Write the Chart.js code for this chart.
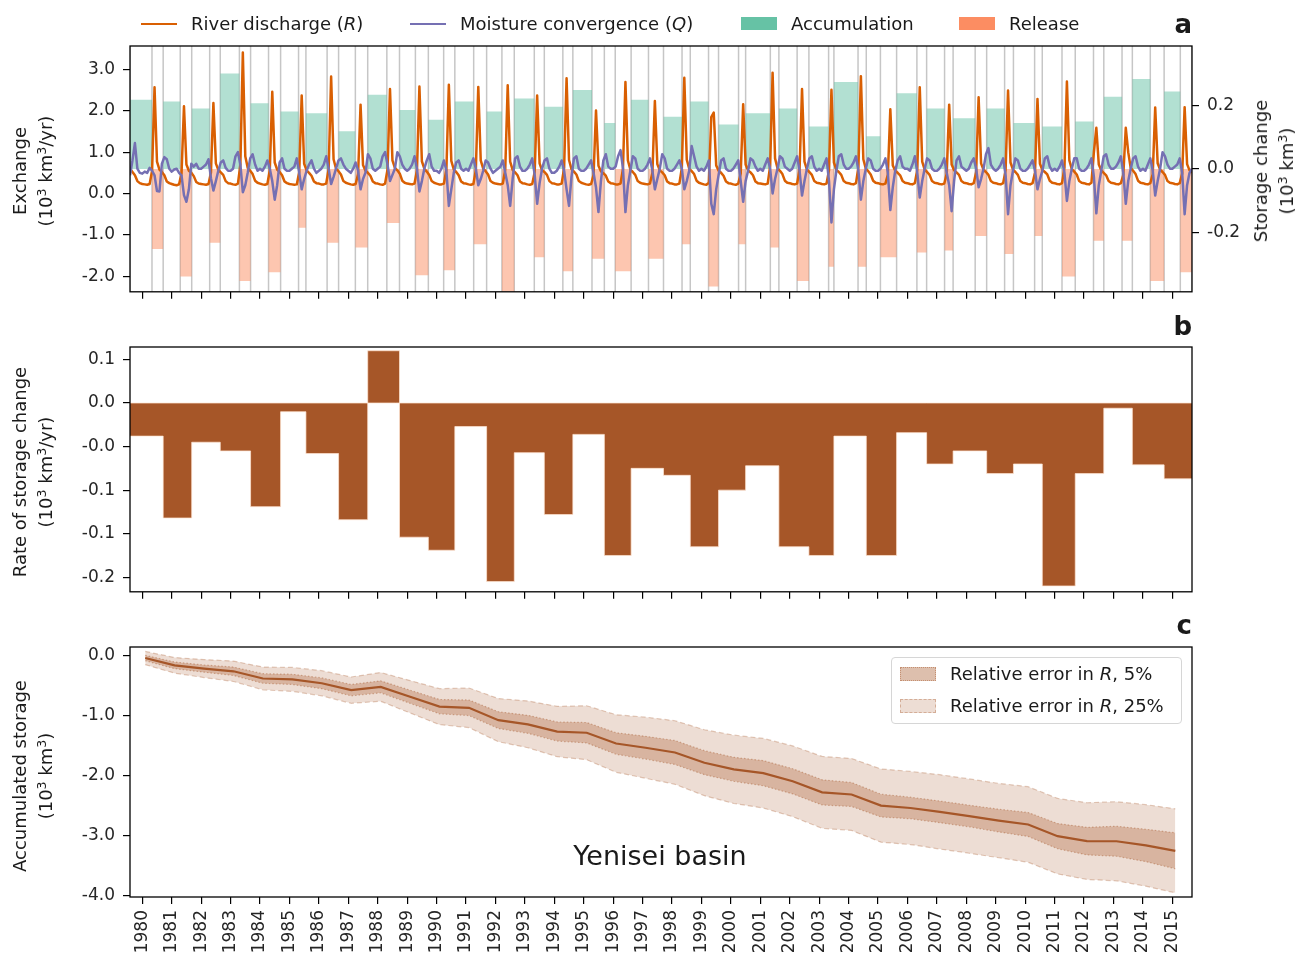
<!DOCTYPE html>
<html>
<head>
<meta charset="utf-8">
<title>Yenisei basin water storage</title>
<script src="https://cdn.jsdelivr.net/npm/chart.js@4.4.1/dist/chart.umd.min.js"></script>
<style>
  html, body { margin: 0; padding: 0; background: #fff; }
  body { position: relative; width: 1298px; height: 964px; overflow: hidden;
         font-family: "DejaVu Sans", sans-serif; color: #1a1a1a; }
  canvas { position: absolute; left: 0; }
  .txt { position: absolute; white-space: nowrap; font-size: 18px; line-height: 18px; }
  .ytitle { position: absolute; transform: translate(-50%, -50%) rotate(-90deg);
            text-align: center; white-space: nowrap; font-size: 18px; line-height: 26px; }
  sup { font-size: 0.7em; line-height: 0; vertical-align: 0.5em; }
  .panel { position: absolute; font-weight: bold; font-size: 26px; line-height: 26px; }
  .swatch { position: absolute; box-sizing: border-box; }
  .legend-c { position: absolute; left: 891px; top: 657px; width: 291px; height: 67px;
              border: 1px solid #d6d6d6; border-radius: 4px; background: rgba(255,255,255,0.8);
              box-sizing: border-box; }
</style>
</head>
<body>
<canvas id="panelA" width="1298" height="310" style="top:0"></canvas>
<canvas id="panelB" width="1298" height="300" style="top:310px"></canvas>
<canvas id="panelC" width="1298" height="364" style="top:600px"></canvas>

<!-- legend of panel a -->
<div class="swatch" style="left:141px;top:22.5px;width:36px;height:2.5px;background:#d95f02"></div>
<div class="txt" style="left:191px;top:15px">River discharge (<i>R</i>)</div>
<div class="swatch" style="left:410px;top:22.5px;width:36px;height:2.5px;background:#7570b3"></div>
<div class="txt" style="left:460px;top:15px">Moisture convergence (<i>Q</i>)</div>
<div class="swatch" style="left:741px;top:17px;width:36px;height:13px;background:#66c2a5"></div>
<div class="txt" style="left:791px;top:15px">Accumulation</div>
<div class="swatch" style="left:959px;top:17px;width:36px;height:13px;background:#fc8d62"></div>
<div class="txt" style="left:1009px;top:15px">Release</div>

<!-- axis titles -->
<div class="ytitle" style="left:33px;top:171px">Exchange<br>(10<sup>3</sup> km<sup>3</sup>/yr)</div>
<div class="ytitle" style="left:1274px;top:171px">Storage change<br>(10<sup>3</sup> km<sup>3</sup>)</div>
<div class="ytitle" style="left:33px;top:472px">Rate of storage change<br>(10<sup>3</sup> km<sup>3</sup>/yr)</div>
<div class="ytitle" style="left:33px;top:776px">Accumulated storage<br>(10<sup>3</sup> km<sup>3</sup>)</div>

<!-- panel letters -->
<div class="panel" style="right:106px;top:11px">a</div>
<div class="panel" style="right:106px;top:313px">b</div>
<div class="panel" style="right:106px;top:612px">c</div>

<!-- panel c annotation and legend -->
<div class="txt" style="left:660px;top:842px;font-size:27px;line-height:27px;transform:translateX(-50%)">Yenisei basin</div>
<div class="legend-c"></div>
<div class="swatch" style="left:900px;top:667px;width:36px;height:14px;background:rgba(166,86,40,0.38);border:1.5px dotted rgba(166,86,40,0.45)"></div>
<div class="txt" style="left:950px;top:665px">Relative error in <i>R</i>, 5%</div>
<div class="swatch" style="left:900px;top:699px;width:36px;height:14px;background:rgba(166,86,40,0.2);border:1.5px dashed rgba(166,86,40,0.35)"></div>
<div class="txt" style="left:950px;top:697px">Relative error in <i>R</i>, 25%</div>

<script>
// ---------------- data ----------------
// Year ticks on the shared time axis
const tickYears = [1980,1981,1982,1983,1984,1985,1986,1987,1988,1989,1990,1991,1992,1993,1994,1995,1996,1997,
                   1998,1999,2000,2001,2002,2003,2004,2005,2006,2007,2008,2009,2010,2011,2012,2013,2014,2015];

// Hydrological-year boundaries (decimal years); the last entry closes the final year
const hydroYearBounds = [1979.583,1980.71,1981.68,1982.65,1983.68,1984.70,1985.56,1986.67,1987.66,1988.74,
                         1989.72,1990.62,1991.70,1992.64,1993.66,1994.63,1995.70,1996.61,1997.71,1998.62,
                         1999.58,2000.50,2001.63,2002.65,2003.50,2004.60,2005.63,2006.65,2007.55,2008.69,
                         2009.60,2010.58,2011.70,2012.67,2013.64,2014.72,2015.667];

// Start of the release period inside each hydrological year
const releaseStart = [1980.33,1981.29,1982.29,1983.30,1984.29,1985.31,1986.28,1987.24,1988.31,1989.28,
                      1990.24,1991.26,1992.22,1993.32,1994.29,1995.28,1996.07,1997.20,1998.34,1999.24,
                      2000.26,2001.34,2002.25,2003.32,2004.32,2005.08,2006.32,2007.26,2008.30,2009.30,
                      2010.32,2011.25,2012.32,2013.29,2014.25,2015.27];

// Storage change during accumulation / release periods (10^3 km^3)
const accumulation = [0.218,0.213,0.191,0.301,0.207,0.181,0.176,0.119,0.234,0.186,0.155,0.213,0.181,0.222,
                      0.196,0.249,0.145,0.218,0.165,0.213,0.140,0.176,0.191,0.134,0.274,0.103,0.239,0.191,
                      0.160,0.191,0.145,0.134,0.150,0.228,0.284,0.244];
const release = [-0.253,-0.340,-0.233,-0.354,-0.326,-0.186,-0.233,-0.248,-0.171,-0.336,-0.320,-0.238,-0.420,
                 -0.279,-0.323,-0.284,-0.323,-0.284,-0.238,-0.371,-0.238,-0.248,-0.354,-0.309,-0.309,-0.279,
                 -0.264,-0.258,-0.212,-0.269,-0.212,-0.340,-0.227,-0.227,-0.354,-0.326];

// Rate of storage change per hydrological year (10^3 km^3/yr)
const storageRate = [-0.038,-0.132,-0.045,-0.055,-0.119,-0.010,-0.058,-0.134,0.060,-0.154,-0.169,-0.027,
                     -0.205,-0.057,-0.128,-0.036,-0.175,-0.075,-0.083,-0.165,-0.100,-0.072,-0.165,-0.175,
                     -0.038,-0.175,-0.034,-0.070,-0.055,-0.081,-0.070,-0.210,-0.081,-0.006,-0.071,-0.087];

// Monthly series (10^3 km^3/yr), one row per calendar year, Jan..Dec
const monthYears = [1979,1980,1981,1982,1983,1984,1985,1986,1987,1988,1989,1990,1991,1992,1993,1994,1995,1996,
                    1997,1998,1999,2000,2001,2002,2003,2004,2005,2006,2007,2008,2009,2010,2011,2012,2013,2014,2015];
const riverDischarge = [
  [null,null,null,null,null,null,null,0.60,0.52,0.44,0.30,0.25],
  [0.23,0.22,0.21,0.23,0.55,2.57,0.77,0.58,0.52,0.44,0.29,0.25],
  [0.23,0.21,0.20,0.22,0.48,2.11,0.70,0.55,0.50,0.42,0.28,0.24],
  [0.23,0.22,0.21,0.23,0.50,2.19,0.73,0.57,0.51,0.45,0.30,0.25],
  [0.24,0.22,0.21,0.24,0.70,3.41,0.90,0.62,0.55,0.47,0.31,0.26],
  [0.24,0.22,0.21,0.23,0.56,2.46,0.75,0.58,0.52,0.44,0.29,0.25],
  [0.23,0.22,0.21,0.22,0.52,2.37,0.72,0.56,0.50,0.43,0.29,0.25],
  [0.24,0.22,0.22,0.24,0.60,2.83,0.83,0.60,0.54,0.46,0.30,0.26],
  [0.24,0.22,0.21,0.23,0.47,2.15,0.69,0.55,0.50,0.43,0.29,0.25],
  [0.24,0.22,0.21,0.24,0.58,2.53,0.80,0.62,0.56,0.48,0.31,0.26],
  [0.24,0.23,0.22,0.24,0.56,2.59,0.78,0.60,0.53,0.45,0.30,0.26],
  [0.24,0.22,0.22,0.24,0.58,2.63,0.79,0.58,0.52,0.44,0.29,0.25],
  [0.24,0.22,0.21,0.23,0.56,2.58,0.80,0.60,0.54,0.46,0.30,0.26],
  [0.24,0.23,0.22,0.24,0.58,2.62,0.77,0.57,0.51,0.44,0.29,0.25],
  [0.24,0.22,0.21,0.23,0.52,2.37,0.73,0.56,0.52,0.45,0.30,0.25],
  [0.24,0.22,0.22,0.24,0.62,2.79,0.81,0.59,0.53,0.46,0.30,0.26],
  [0.24,0.22,0.21,0.23,0.45,2.01,0.67,0.54,0.49,0.43,0.29,0.25],
  [0.24,0.22,0.22,0.24,0.60,2.70,0.80,0.58,0.52,0.45,0.30,0.26],
  [0.24,0.23,0.22,0.24,0.50,2.24,0.71,0.56,0.51,0.44,0.29,0.25],
  [0.24,0.22,0.22,0.24,0.62,2.80,0.82,0.60,0.54,0.47,0.31,0.26],
  [0.24,0.22,0.21,0.26,1.85,1.96,0.68,0.55,0.50,0.43,0.29,0.25],
  [0.24,0.22,0.21,0.24,0.48,2.16,0.70,0.56,0.51,0.44,0.29,0.25],
  [0.24,0.23,0.22,0.24,0.66,2.92,0.85,0.61,0.55,0.47,0.31,0.26],
  [0.25,0.23,0.22,0.24,0.58,2.53,0.77,0.58,0.52,0.45,0.30,0.26],
  [0.25,0.23,0.22,0.24,0.56,2.51,0.75,0.57,0.52,0.45,0.30,0.26],
  [0.25,0.23,0.22,0.25,0.64,2.84,0.83,0.60,0.54,0.46,0.31,0.26],
  [0.25,0.23,0.22,0.24,0.46,2.04,0.68,0.55,0.50,0.44,0.30,0.26],
  [0.25,0.23,0.22,0.25,0.58,2.57,0.77,0.58,0.52,0.45,0.30,0.26],
  [0.25,0.23,0.22,0.24,0.48,2.15,0.70,0.56,0.51,0.45,0.30,0.26],
  [0.25,0.23,0.22,0.25,0.52,2.33,0.73,0.57,0.52,0.45,0.30,0.26],
  [0.25,0.23,0.22,0.25,0.56,2.49,0.75,0.58,0.52,0.45,0.30,0.26],
  [0.25,0.23,0.22,0.25,0.51,2.29,0.72,0.57,0.52,0.46,0.31,0.26],
  [0.25,0.23,0.22,0.25,0.62,2.71,0.80,0.59,0.53,0.46,0.30,0.26],
  [0.25,0.23,0.22,0.26,1.00,1.59,0.70,0.56,0.50,0.44,0.30,0.26],
  [0.25,0.23,0.22,0.25,0.45,1.59,1.00,0.62,0.55,0.47,0.31,0.26],
  [0.25,0.23,0.22,0.25,0.47,2.08,0.73,0.58,0.52,0.45,0.30,0.26],
  [0.25,0.23,0.22,0.25,0.48,2.09,0.71,0.56,0.50,null,null,null]
];
const moistureConvergence = [
  [null,null,null,null,null,null,null,0.44,0.80,1.22,0.60,0.50],
  [0.48,0.53,0.50,0.62,0.55,0.44,0.06,0.05,0.72,0.88,0.83,0.60],
  [0.53,0.58,0.60,0.50,0.44,-0.04,-0.20,0.10,0.72,0.65,0.72,0.60],
  [0.60,0.65,0.70,0.83,0.37,0.07,0.30,0.55,0.75,0.80,0.62,0.55],
  [0.55,0.60,0.90,1.00,0.70,0.03,0.20,0.50,0.85,0.95,0.70,0.55],
  [0.60,0.55,0.65,0.80,0.60,0.30,-0.15,0.20,0.75,0.85,0.60,0.55],
  [0.55,0.60,0.65,0.85,0.50,0.10,0.35,0.55,0.70,0.80,0.60,0.50],
  [0.55,0.60,0.70,0.90,0.60,0.23,0.40,0.60,0.80,0.85,0.70,0.60],
  [0.55,0.50,0.60,0.75,0.55,0.10,0.35,0.50,0.95,0.85,0.60,0.55],
  [0.60,0.65,0.90,1.00,0.70,0.30,0.45,0.60,1.00,0.90,0.70,0.60],
  [0.55,0.60,0.70,0.90,0.60,0.05,0.30,0.60,0.80,0.95,0.65,0.55],
  [0.55,0.50,0.60,0.80,0.55,-0.30,0.10,0.50,0.75,0.80,0.60,0.55],
  [0.60,0.55,0.70,0.85,0.60,0.20,0.35,0.55,0.80,0.75,0.60,0.50],
  [0.55,0.60,0.65,0.80,0.50,0.20,-0.30,0.35,0.85,0.90,0.65,0.55],
  [0.55,0.60,0.70,0.85,0.45,-0.25,0.25,0.60,0.80,0.85,0.60,0.50],
  [0.50,0.55,0.65,0.80,0.55,0.10,-0.30,0.40,0.85,0.90,0.60,0.55],
  [0.55,0.60,0.70,0.80,0.50,0.15,-0.45,0.30,0.80,0.95,0.65,0.60],
  [0.60,0.65,0.90,1.05,0.60,-0.45,0.20,0.55,0.90,0.85,0.60,0.55],
  [0.55,0.60,0.70,0.85,0.55,0.10,0.35,0.60,0.95,0.85,0.60,0.55],
  [0.55,0.60,0.70,0.80,0.60,0.10,0.30,0.55,1.15,0.90,0.65,0.55],
  [0.60,0.55,0.65,0.80,-0.25,-0.50,0.10,0.45,0.80,0.85,0.60,0.55],
  [0.55,0.60,0.70,0.80,0.30,-0.20,0.30,0.55,0.85,0.80,0.65,0.55],
  [0.60,0.55,0.70,0.85,0.60,0.00,0.35,0.60,0.90,0.85,0.65,0.60],
  [0.55,0.60,0.75,0.90,0.55,-0.05,0.30,0.60,0.85,0.90,0.65,0.55],
  [0.60,0.55,0.70,0.85,0.30,-0.70,0.10,0.55,0.90,0.95,0.70,0.60],
  [0.60,0.65,0.75,0.90,0.55,-0.15,0.30,0.60,0.85,0.80,0.60,0.55],
  [0.55,0.60,0.70,0.85,0.50,-0.40,0.15,0.55,0.80,0.90,0.65,0.60],
  [0.60,0.55,0.70,0.90,0.50,-0.10,0.30,0.60,0.85,0.80,0.60,0.55],
  [0.55,0.60,0.70,0.85,0.50,0.20,-0.43,0.30,0.80,0.90,0.65,0.60],
  [0.55,0.60,0.75,0.85,0.60,0.15,0.35,0.60,0.95,1.10,0.70,0.60],
  [0.55,0.60,0.70,0.85,0.45,-0.50,0.20,0.55,0.85,0.80,0.60,0.55],
  [0.55,0.60,0.70,0.80,0.55,0.10,0.35,0.55,0.85,0.90,0.65,0.55],
  [0.60,0.55,0.65,0.80,0.50,-0.18,0.30,0.60,0.85,0.85,0.60,0.55],
  [0.55,0.60,0.70,0.85,0.40,-0.48,0.20,0.55,0.90,0.95,0.70,0.60],
  [0.60,0.65,0.75,0.90,0.50,-0.25,0.30,0.60,0.85,0.90,0.65,0.55],
  [0.60,0.55,0.70,0.85,0.55,-0.05,0.30,0.60,1.00,0.90,0.70,0.60],
  [0.60,0.65,0.70,0.85,0.50,-0.50,0.20,0.50,0.60,null,null,null]
];

// Accumulated storage (10^3 km^3) and its error envelopes
const storageYears = [1980,1981,1982,1983,1984,1985,1986,1987,1988,1989,1990,1991,1992,1993,1994,1995,1996,1997,
                      1998,1999,2000,2001,2002,2003,2004,2005,2006,2007,2008,2009,2010,2011,2012,2013,2014,2015];
const accumulatedStorage = [-0.044,-0.166,-0.220,-0.265,-0.385,-0.400,-0.465,-0.580,-0.525,-0.690,-0.855,-0.874,
                            -1.080,-1.150,-1.270,-1.290,-1.470,-1.540,-1.620,-1.790,-1.900,-1.965,-2.100,-2.285,
                            -2.320,-2.505,-2.545,-2.610,-2.680,-2.755,-2.820,-3.015,-3.098,-3.100,-3.170,-3.260];
const errorR5 = [0.045,0.055,0.060,0.070,0.080,0.085,0.090,0.095,0.100,0.110,0.120,0.130,0.140,0.150,0.160,0.170,
                 0.180,0.190,0.200,0.200,0.200,0.210,0.210,0.210,0.200,0.190,0.180,0.180,0.180,0.190,0.200,0.210,
                 0.230,0.250,0.270,0.300];
const errorR25 = [0.11,0.13,0.15,0.17,0.19,0.20,0.21,0.22,0.24,0.27,0.30,0.33,0.36,0.39,0.42,0.45,0.48,0.51,
                  0.53,0.55,0.57,0.58,0.59,0.60,0.60,0.61,0.61,0.62,0.62,0.62,0.63,0.63,0.64,0.66,0.68,0.70];

// Tick values and their printed labels
const exchangeTicks = [-2, -1, 0, 1, 2, 3];
const exchangeTickLabels = ['-2.0', '-1.0', '0.0', '1.0', '2.0', '3.0'];
const storageChangeTicks = [-0.2, 0, 0.2];
const storageChangeTickLabels = ['-0.2', '0.0', '0.2'];
const rateTicks = [-0.2, -0.15, -0.1, -0.05, 0, 0.05];
const rateTickLabels = ['-0.2', '-0.1', '-0.1', '-0.0', '0.0', '0.1'];
const accumulatedTicks = [-4, -3, -2, -1, 0];
const accumulatedTickLabels = ['-4.0', '-3.0', '-2.0', '-1.0', '0.0'];

// ---------------- derived point lists ----------------
const X_MIN = hydroYearBounds[0];
const X_MAX = hydroYearBounds[hydroYearBounds.length - 1];
const nYears = accumulation.length;

function monthlyPoints(rows) {
  const pts = [];
  rows.forEach((row, r) => row.forEach((v, m) => {
    if (v !== null) pts.push({ x: monthYears[r] + m / 12, y: v });
  }));
  return pts;
}

const accumulationSteps = [], releaseSteps = [], rateSteps = [];
for (let i = 0; i < nYears; i++) {
  accumulationSteps.push({ x: hydroYearBounds[i], y: accumulation[i] }, { x: releaseStart[i], y: 0 });
  releaseSteps.push({ x: hydroYearBounds[i], y: 0 }, { x: releaseStart[i], y: release[i] });
  rateSteps.push({ x: hydroYearBounds[i], y: storageRate[i] });
}
accumulationSteps.push({ x: X_MAX, y: 0 });
releaseSteps.push({ x: X_MAX, y: 0 });
rateSteps.push({ x: X_MAX, y: storageRate[nYears - 1] });

// vertical separators between accumulation and release periods
const separatorX = hydroYearBounds.concat(releaseStart).sort((a, b) => a - b);
const separatorLines = [];
separatorX.forEach(x => separatorLines.push({ x, y: -10 }, { x, y: 10 }, { x, y: null }));

const storageX = storageYears.map(y => y + 0.1);
const storageLine = storageX.map((x, i) => ({ x, y: accumulatedStorage[i] }));
const band = (err, sign) => storageX.map((x, i) => ({ x, y: accumulatedStorage[i] + sign * err[i] }));

// ---------------- shared styling ----------------
const INK = '#262626';
const FAMILY = '"DejaVu Sans", sans-serif';
const TICK_FONT = { family: FAMILY, size: 17 };
Chart.defaults.font.family = FAMILY;
Chart.defaults.color = INK;

const framePlugin = {
  id: 'frame',
  afterDraw(chart) {
    const { ctx, chartArea: a } = chart;
    ctx.save();
    ctx.strokeStyle = '#000';
    ctx.lineWidth = 1.3;
    ctx.strokeRect(a.left, a.top, a.right - a.left, a.bottom - a.top);
    ctx.restore();
  }
};

function xAxis(height, withLabels) {
  return {
    type: 'linear', position: 'bottom', min: X_MIN, max: X_MAX,
    afterBuildTicks: s => { s.ticks = tickYears.map(v => ({ value: v })); },
    afterFit: s => { s.height = height; },
    ticks: { display: withLabels, autoSkip: false, minRotation: 90, maxRotation: 90, padding: 6,
             font: TICK_FONT, color: INK, callback: v => String(v) },
    grid: { drawOnChartArea: false, drawTicks: true, tickLength: 7, color: '#000', lineWidth: 1.2 },
    border: { display: false }
  };
}

function yAxis(position, min, max, values, labels, width) {
  return {
    type: 'linear', position, min, max,
    afterBuildTicks: s => { s.ticks = values.map(v => ({ value: v })); },
    afterFit: s => { s.width = width; },
    ticks: { font: TICK_FONT, color: INK, padding: 8, callback: (v, i) => labels[i] },
    grid: { drawOnChartArea: false, drawTicks: true, tickLength: 7, color: '#000', lineWidth: 1.2 },
    border: { display: false }
  };
}

function baseOptions(padding, scales) {
  return {
    responsive: false, animation: false, events: [],
    layout: { padding },
    plugins: { legend: { display: false }, tooltip: { enabled: false } },
    elements: { point: { radius: 0 }, line: { tension: 0 } },
    scales
  };
}

const NONE = 'rgba(0,0,0,0)';

// ---------------- panel a: monthly exchange and period storage change ----------------
new Chart(document.getElementById('panelA'), {
  type: 'line',
  data: { datasets: [
    { label: 'Moisture convergence (Q)', data: monthlyPoints(moistureConvergence), yAxisID: 'y',
      borderColor: '#7570b3', borderWidth: 2.5, borderJoinStyle: 'round', order: 0 },
    { label: 'River discharge (R)', data: monthlyPoints(riverDischarge), yAxisID: 'y',
      borderColor: '#d95f02', borderWidth: 2.5, borderJoinStyle: 'round', order: 1 },
    { label: 'Accumulation', data: accumulationSteps, yAxisID: 'y2', stepped: true, fill: 'origin',
      backgroundColor: 'rgba(102,194,165,0.5)', borderColor: NONE, borderWidth: 0, order: 2 },
    { label: 'Release', data: releaseSteps, yAxisID: 'y2', stepped: true, fill: 'origin',
      backgroundColor: 'rgba(252,141,98,0.5)', borderColor: NONE, borderWidth: 0, order: 2 },
    { label: 'Period separators', data: separatorLines, yAxisID: 'y', spanGaps: false,
      borderColor: '#c6c6c6', borderWidth: 1.5, order: 3 }
  ]},
  options: baseOptions({ top: 46, left: 0, right: 0, bottom: 0 }, {
    x: xAxis(13, false),
    y: yAxis('left', -2.38, 3.57, exchangeTicks, exchangeTickLabels, 130),
    y2: yAxis('right', -0.388, 0.388, storageChangeTicks, storageChangeTickLabels, 106)
  }),
  plugins: [framePlugin]
});

// ---------------- panel b: rate of storage change ----------------
new Chart(document.getElementById('panelB'), {
  type: 'line',
  data: { datasets: [
    { label: 'Zero line', data: [{ x: X_MIN, y: 0 }, { x: X_MAX, y: 0 }],
      borderColor: 'rgba(255,228,210,0.9)', borderWidth: 0.8, order: 0 },
    { label: 'Rate of storage change', data: rateSteps, stepped: true, fill: 'origin',
      backgroundColor: '#a65628', borderColor: 'rgba(255,228,210,0.9)', borderWidth: 0.8, order: 1 }
  ]},
  options: baseOptions({ top: 37, left: 0, right: 106, bottom: 0 }, {
    x: xAxis(14, false),
    y: yAxis('left', -0.2167, 0.0643, rateTicks, rateTickLabels, 130)
  }),
  plugins: [framePlugin]
});

// ---------------- panel c: accumulated storage ----------------
new Chart(document.getElementById('panelC'), {
  type: 'line',
  data: { datasets: [
    { label: 'Accumulated storage', data: storageLine, borderColor: '#a65628', borderWidth: 2.2, order: 0 },
    { label: 'Relative error in R, 5%', data: band(errorR5, 1), fill: '+1',
      backgroundColor: 'rgba(166,86,40,0.3)', borderColor: 'rgba(166,86,40,0.4)', borderWidth: 1.2,
      borderDash: [1.5, 2], order: 1 },
    { label: '5% lower', data: band(errorR5, -1),
      borderColor: 'rgba(166,86,40,0.4)', borderWidth: 1.2, borderDash: [1.5, 2], order: 2 },
    { label: 'Relative error in R, 25%', data: band(errorR25, 1), fill: '+1',
      backgroundColor: 'rgba(166,86,40,0.2)', borderColor: 'rgba(166,86,40,0.3)', borderWidth: 1.2,
      borderDash: [5, 3], order: 3 },
    { label: '25% lower', data: band(errorR25, -1),
      borderColor: 'rgba(166,86,40,0.3)', borderWidth: 1.2, borderDash: [5, 3], order: 4 }
  ]},
  options: baseOptions({ top: 47, left: 0, right: 106, bottom: 0 }, {
    x: xAxis(67, true),
    y: yAxis('left', -4.03, 0.14, accumulatedTicks, accumulatedTickLabels, 130)
  }),
  plugins: [framePlugin]
});
</script>
</body>
</html>
